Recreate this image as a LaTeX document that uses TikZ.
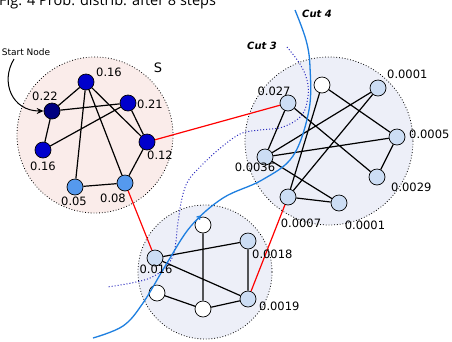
\documentclass[tikz,border=0pt]{standalone}
\usepackage{fontspec}
\setmainfont{DejaVu Sans}
\newfontfamily\titlefont{Open Sans}
\usetikzlibrary{arrows.meta,decorations.markings}
\definecolor{darknavy}{HTML}{000080}
\definecolor{midblue}{HTML}{0000CC}
\definecolor{lightblue}{HTML}{5599EE}
\definecolor{paleblue}{HTML}{CCDDF4}
\definecolor{pinkbg}{HTML}{FAECEA}
\definecolor{lavbg}{HTML}{EDEFF8}
\definecolor{cutfour}{HTML}{1E7FE0}
\definecolor{cutthree}{HTML}{2A2ABF}
\tikzset{
  vtx/.style={circle,draw=black,line width=0.7pt,minimum size=16pt,inner sep=0pt},
  lbl/.style={font=\fontsize{11.5}{12}\selectfont,inner sep=0pt},
  region/.style={draw=black,dotted,line width=0.8pt},
  edge/.style={draw=black,line width=1.2pt},
  redge/.style={draw=red,line width=1.2pt},
}
\begin{document}
\begin{tikzpicture}[x=1pt,y=-1pt]
\useasboundingbox (0,0) rectangle (452,341);
\clip (0,0) rectangle (452,341);
\fill[white] (0,0) rectangle (452,341);
% title (cut off at the top edge, as in the reference)
\node[anchor=base west,inner sep=0pt,font=\titlefont\fontsize{14.5}{16}\selectfont] (title) at (-1,5.5) {Fig. 4 Prob. distrib. after 8 steps};
% regions
\path[region,fill=pinkbg] (95,135) circle (78);
\path[region,fill=lavbg] (329,141) circle (84);
\path[region,fill=lavbg] (205,272) circle (67);
% left cluster nodes
\node[vtx,fill=midblue] (a1) at (86,82) {};
\node[vtx,fill=darknavy] (a2) at (52,111) {};
\node[vtx,fill=midblue] (a3) at (128,103) {};
\node[vtx,fill=midblue] (a4) at (43,150) {};
\node[vtx,fill=midblue] (a5) at (147,142) {};
\node[vtx,fill=lightblue] (a6) at (75,187) {};
\node[vtx,fill=lightblue] (a7) at (125,183) {};
% right cluster nodes
\node[vtx,fill=paleblue] (b1) at (288,103) {};
\node[vtx,fill=white] (b2) at (322,85) {};
\node[vtx,fill=paleblue] (b3) at (378,88) {};
\node[vtx,fill=paleblue] (b4) at (397,137) {};
\node[vtx,fill=paleblue] (b5) at (265,157) {};
\node[vtx,fill=paleblue] (b6) at (377,177) {};
\node[vtx,fill=paleblue] (b7) at (288,197) {};
\node[vtx,fill=paleblue] (b8) at (339,203) {};
% bottom cluster nodes
\node[vtx,fill=white] (c1) at (203,225) {};
\node[vtx,fill=paleblue] (c2) at (248,241) {};
\node[vtx,fill=paleblue] (c3) at (155,258) {};
\node[vtx,fill=white] (c4) at (157,293) {};
\node[vtx,fill=white] (c5) at (203,309) {};
\node[vtx,fill=paleblue] (c6) at (248,299) {};
% edges
\path[edge] (a2)--(a1) (a2)--(a3) (a2)--(a4) (a4)--(a3) (a1)--(a6) (a1)--(a7) (a1)--(a5) (a3)--(a5) (a5)--(a7) (a7)--(a6);
\path[edge] (b1)--(b5) (b1)--(b6) (b2)--(b4) (b2)--(b7) (b3)--(b5) (b3)--(b7) (b5)--(b4) (b5)--(b8) (b4)--(b6) (b7)--(b8);
\path[edge] (c3)--(c2) (c3)--(c6) (c1)--(c5) (c2)--(c6) (c4)--(c5) (c5)--(c6);
\path[redge] (a5)--(b1) (a7)--(c3) (c6)--(b7);
% cuts
\draw[cutthree,dotted,line width=1pt] plot[smooth,tension=0.6] coordinates {(287,47) (300,64) (307,80) (308,96) (302,115) (283,127) (260,130) (240,134) (218,150) (200,167) (188,181) (182,198) (178,222) (172,258) (150,278) (107,287)};
\draw[cutfour,line width=1.3pt,postaction={decorate},decoration={markings,mark=at position 0.62 with {\arrow{Straight Barb[length=3pt,width=4pt,reversed]}}}] plot[smooth,tension=0.6] coordinates {(295,10) (306,40) (310,67) (309,110) (293,156) (262,180) (223,198) (191,226) (167,263) (143,303) (123,326) (93,338)};
% labels
\node[lbl,anchor=south west] (l1) at (96,77) {0.16};
\node[lbl,anchor=south east] (l2) at (58,101) {0.22};
\node[lbl,anchor=west] (l3) at (137,104) {0.21};
\node[lbl,anchor=north east] (l4) at (56,162) {0.16};
\node[lbl,anchor=north] (l5) at (160,151) {0.12};
\node[lbl,anchor=north] (l6) at (74,197) {0.05};
\node[lbl,anchor=north] (l7) at (113,194) {0.08};
\node[font=\fontsize{13}{14}\selectfont,inner sep=0pt] (s) at (158,68) {S};
\node[lbl,anchor=south] (m1) at (274,96) {0.027};
\node[lbl,anchor=south west] (m2) at (387,79) {0.0001};
\node[lbl,anchor=west] (m3) at (409,134) {0.0005};
\node[lbl,anchor=north] (m4) at (255,163) {0.0036};
\node[lbl,anchor=north west] (m5) at (391,183) {0.0029};
\node[lbl,anchor=north] (m6) at (301,219) {0.0007};
\node[lbl,anchor=north] (m7) at (365,221) {0.0001};
\node[lbl,anchor=north] (n1) at (156,265) {0.016};
\node[lbl,anchor=north west] (n2) at (252,250) {0.0018};
\node[lbl,anchor=north west] (n3) at (259,302) {0.0019};
\node[font=\bfseries\itshape\fontsize{10}{12}\selectfont,inner sep=0pt] (cut4) at (317,14) {Cut 4};
\node[font=\bfseries\itshape\fontsize{10}{12}\selectfont,inner sep=0pt] (cut3) at (262,46) {Cut 3};
% start node
\node[font=\fontsize{9}{10}\selectfont,inner sep=0pt] (start) at (26,52) {Start Node};
\coordinate (st) at (14,59);
\draw[line width=1pt,-{Stealth[length=7pt,width=6pt]}] (st) .. controls (0,82) and (12,111) .. (a2.west);
\end{tikzpicture}
\end{document}
